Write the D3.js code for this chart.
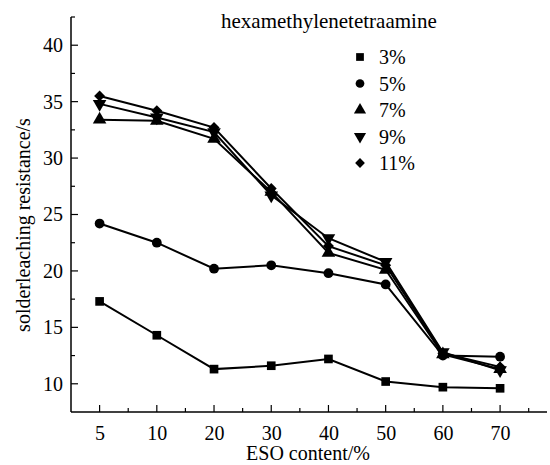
<!DOCTYPE html>
<html>
<head>
<meta charset="utf-8">
<script src="https://cdn.jsdelivr.net/npm/d3@7"></script>
<style>
  body { margin: 0; background: #fff; }
</style>
</head>
<body>
<div id="chart"></div>
<script>
// ESO content categories (x axis)
var categories = ["5", "10", "20", "30", "40", "50", "60", "70"];
var seriesNames = ["3%", "5%", "7%", "9%", "11%"];
var s3 = [17.3, 14.3, 11.3, 11.6, 12.2, 10.2, 9.7, 9.6];
var s5 = [24.2, 22.5, 20.2, 20.5, 19.8, 18.8, 12.5, 12.4];
var s7 = [33.4, 33.3, 31.7, 27.0, 21.6, 20.1, 12.6, 11.3];
var s9 = [34.8, 33.6, 32.3, 26.7, 22.9, 20.8, 12.8, 11.2];
var s11 = [35.5, 34.2, 32.7, 27.3, 22.2, 20.5, 12.7, 11.5];
var yTicks = [10, 15, 20, 25, 30, 35, 40];

var width = 550, height = 465;
var serif = "Liberation Serif";

var svg = d3.select("#chart")
  .append("svg")
  .attr("width", width)
  .attr("height", height);

var x = d3.scaleLinear().domain([-0.5, 7.82]).range([71, 547]);
var y = d3.scaleLinear().domain([7.5, 42.5]).range([412, 17]);

// y axis
var yAxis = d3.axisLeft(y).tickValues(yTicks).tickSize(0).tickPadding(8);
var gy = svg.append("g").attr("transform", "translate(71,0)").call(yAxis);
gy.select(".domain").remove();
gy.selectAll("text").style("font-size", "20px").style("font-family", serif);

svg.append("line")
  .attr("x1", 71).attr("x2", 71)
  .attr("y1", y(42.5)).attr("y2", y(7.5))
  .attr("stroke", "#000").attr("stroke-width", 1.5);

var yMinor = d3.range(12.5, 43, 5);
svg.selectAll(".ymaj")
  .data(yTicks)
  .enter()
  .append("line")
  .attr("x1", 71).attr("x2", 78)
  .attr("y1", function (d) { return y(d); })
  .attr("y2", function (d) { return y(d); })
  .attr("stroke", "#000").attr("stroke-width", 1.2);
svg.selectAll(".ymin")
  .data(yMinor)
  .enter()
  .append("line")
  .attr("x1", 71).attr("x2", 75)
  .attr("y1", function (d) { return y(d); })
  .attr("y2", function (d) { return y(d); })
  .attr("stroke", "#000").attr("stroke-width", 1.2);

// x axis
var xAxis = d3.axisBottom(x)
  .tickValues(d3.range(categories.length))
  .tickFormat(function (d) { return categories[d]; })
  .tickSize(0).tickPadding(14);
var gx = svg.append("g").attr("transform", "translate(0,412)").call(xAxis);
gx.select(".domain").remove();
gx.selectAll("text").style("font-size", "20px").style("font-family", serif);

svg.append("line")
  .attr("x1", 71).attr("x2", 547)
  .attr("y1", 412).attr("y2", 412)
  .attr("stroke", "#000").attr("stroke-width", 1.5);

svg.selectAll(".xmaj")
  .data(d3.range(categories.length))
  .enter()
  .append("line")
  .attr("x1", function (d) { return x(d); })
  .attr("x2", function (d) { return x(d); })
  .attr("y1", 412).attr("y2", 405)
  .attr("stroke", "#000").attr("stroke-width", 1.2);
svg.selectAll(".xmin")
  .data(d3.range(0.5, 7.6, 1))
  .enter()
  .append("line")
  .attr("x1", function (d) { return x(d); })
  .attr("x2", function (d) { return x(d); })
  .attr("y1", 412).attr("y2", 408)
  .attr("stroke", "#000").attr("stroke-width", 1.2);

// axis titles
svg.append("text")
  .attr("x", 308).attr("y", 460)
  .style("text-anchor", "middle")
  .style("font-size", "20px")
  .style("font-family", serif)
  .text("ESO content/%");

svg.append("text")
  .attr("transform", "rotate(-90)")
  .attr("x", -225).attr("y", 30)
  .style("text-anchor", "middle")
  .style("font-size", "20px")
  .style("font-family", serif)
  .text("solderleaching resistance/s");

// series
var allSeries = [s3, s5, s7, s9, s11];
var symbols = [
  { type: d3.symbolSquare, size: 75, rot: 0 },
  { type: d3.symbolCircle, size: 75, rot: 0 },
  { type: d3.symbolTriangle, size: 80, rot: 0 },
  { type: d3.symbolTriangle, size: 80, rot: 180 },
  { type: d3.symbolSquare, size: 60, rot: 45 }
];

var line = d3.line()
  .x(function (d, i) { return x(i); })
  .y(function (d) { return y(d); });

allSeries.forEach(function (s, k) {
  svg.append("path")
    .datum(s)
    .attr("d", line)
    .attr("fill", "none")
    .attr("stroke", "#000")
    .attr("stroke-width", 2);

  svg.selectAll(".m" + k)
    .data(s)
    .enter()
    .append("path")
    .attr("d", d3.symbol().type(symbols[k].type).size(symbols[k].size))
    .attr("transform", function (d, i) {
      return "translate(" + x(i) + "," + y(d) + ") rotate(" + symbols[k].rot + ")";
    })
    .attr("fill", "#000");
});

// legend
svg.append("text")
  .attr("x", 221).attr("y", 28)
  .style("font-size", "21px")
  .style("font-family", serif)
  .text("hexamethylenetetraamine");

var legY = d3.scaleLinear().domain([0, 4]).range([57, 163]);
seriesNames.forEach(function (name, k) {
  svg.append("path")
    .attr("d", d3.symbol().type(symbols[k].type).size(symbols[k].size * 0.8))
    .attr("transform", "translate(360," + legY(k) + ") rotate(" + symbols[k].rot + ")")
    .attr("fill", "#000");
  svg.append("text")
    .attr("x", 379).attr("y", legY(k))
    .attr("dy", "0.35em")
    .style("font-size", "20px")
    .style("font-family", serif)
    .text(name);
});
</script>
</body>
</html>
